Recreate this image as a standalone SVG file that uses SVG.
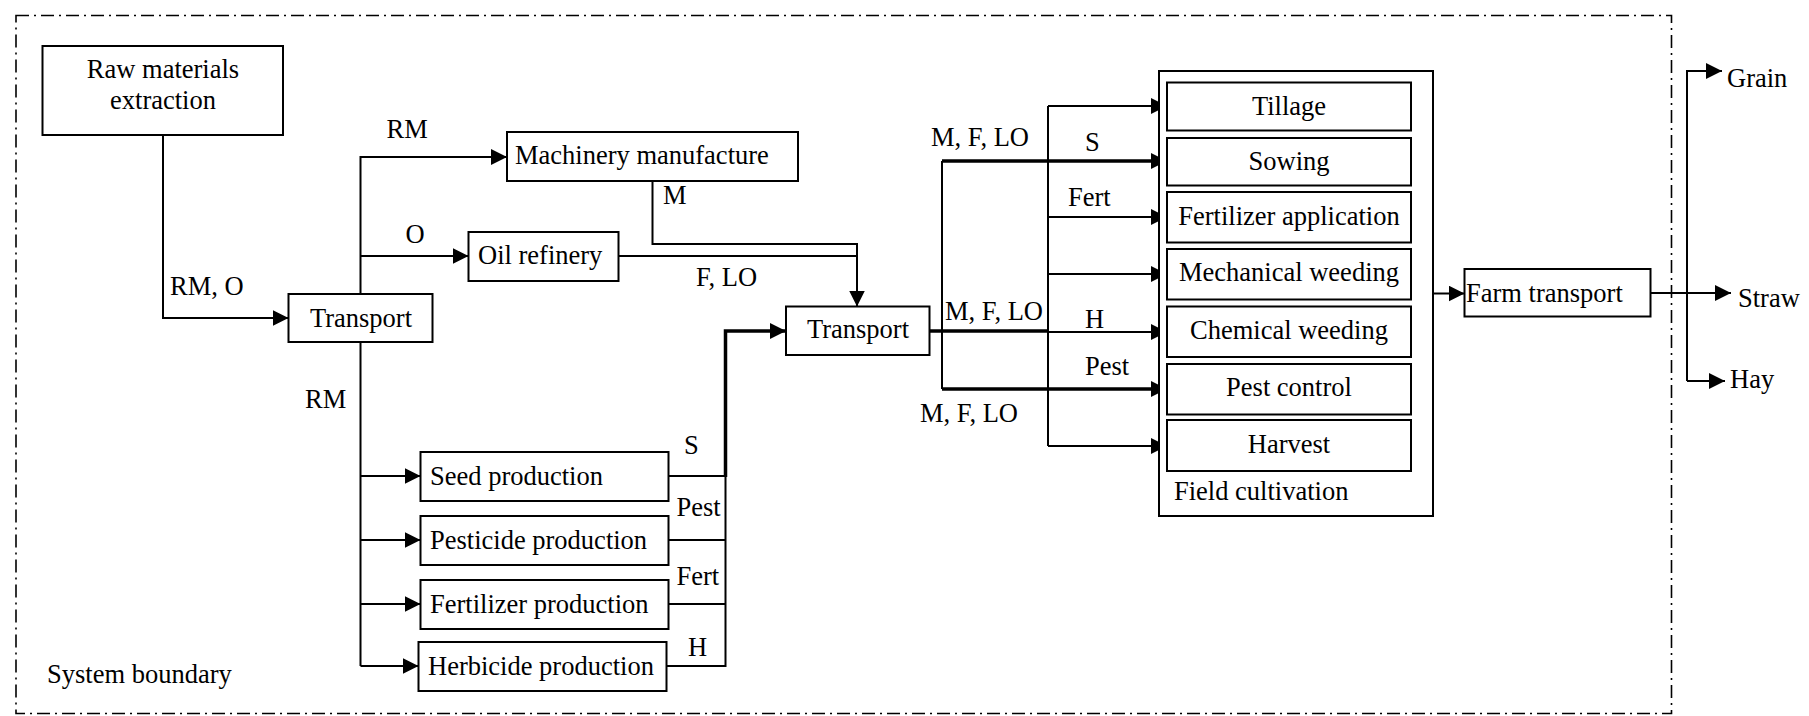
<svg xmlns="http://www.w3.org/2000/svg" width="1809" height="716" viewBox="0 0 1809 716">
<style>
text{font-size:26.5px;fill:#000}
.c{text-anchor:middle}
.box{fill:#fff;stroke:#000;stroke-width:2}
.ln{fill:none;stroke:#000;stroke-width:2}
.thk{fill:none;stroke:#000;stroke-width:3.5}
.bd{fill:none;stroke:#000;stroke-width:1.6;stroke-dasharray:13 5 2 5}
</style>
<defs>
<marker id="ah" markerUnits="userSpaceOnUse" markerWidth="17" markerHeight="16" refX="16" refY="8" orient="auto">
<path d="M0,0 L16,8 L0,16 z" fill="#000"/>
</marker>
</defs>
<g font-family="'Liberation Serif', 'Times New Roman', 'DejaVu Serif', serif">
<rect class="bd" x="16" y="15.5" width="1655.5" height="698"/>
<text x="47" y="683">System boundary</text>
<g id="connectors">
<path class="ln" d="M163,135 V318 H288.5" marker-end="url(#ah)"/>
<path class="ln" d="M360.5,294 V157 H507" marker-end="url(#ah)"/>
<path class="ln" d="M360.5,256 H468.5" marker-end="url(#ah)"/>
<path class="ln" d="M360.5,342 V666"/>
<path class="ln" d="M360.5,476 H420.5" marker-end="url(#ah)"/>
<path class="ln" d="M360.5,540 H420.5" marker-end="url(#ah)"/>
<path class="ln" d="M360.5,604 H420.5" marker-end="url(#ah)"/>
<path class="ln" d="M360.5,666 H418.5" marker-end="url(#ah)"/>
<path class="ln" d="M668.5,476 H725.5"/>
<path class="ln" d="M668.5,540 H725.5"/>
<path class="ln" d="M668.5,604 H725.5"/>
<path class="ln" d="M666.5,666 H725.5 V476"/>
<path class="thk" d="M725.5,477 V331 H786" marker-end="url(#ah)"/>
<path class="ln" d="M652.5,181 V244 H857 V306.5" marker-end="url(#ah)"/>
<path class="ln" d="M618.5,256 H857"/>
<path class="thk" d="M929.5,331 H1048"/>
<path class="ln" d="M942,161 V389"/>
<path class="thk" d="M942,161 H1152"/>
<path class="ln" d="M1150,161 H1167" marker-end="url(#ah)"/>
<path class="thk" d="M942,389 H1152"/>
<path class="ln" d="M1150,389 H1167" marker-end="url(#ah)"/>
<path class="ln" d="M1048,106 V446"/>
<path class="ln" d="M1048,106 H1167" marker-end="url(#ah)"/>
<path class="ln" d="M1048,217 H1167" marker-end="url(#ah)"/>
<path class="ln" d="M1048,274 H1167" marker-end="url(#ah)"/>
<path class="ln" d="M1048,332 H1167" marker-end="url(#ah)"/>
<path class="ln" d="M1048,446 H1167" marker-end="url(#ah)"/>
<path class="ln" d="M1433.5,293.5 H1464.5" marker-end="url(#ah)"/>
<path class="ln" d="M1650.5,293 H1731" marker-end="url(#ah)"/>
<path class="ln" d="M1687,381 V71 H1722" marker-end="url(#ah)"/>
<path class="ln" d="M1687,381 H1725" marker-end="url(#ah)"/>
<text x="170" y="295">RM, O</text>
<text x="386.5" y="138">RM</text>
<text class="c" x="415" y="243">O</text>
<text x="305" y="408">RM</text>
<text x="663" y="204">M</text>
<text x="696" y="286">F, LO</text>
<text x="684" y="454">S</text>
<text x="676.5" y="516">Pest</text>
<text x="676.5" y="585">Fert</text>
<text x="688" y="656">H</text>
<text x="931" y="146">M, F, LO</text>
<text x="1085" y="151">S</text>
<text x="1068" y="206">Fert</text>
<text x="945" y="319.5">M, F, LO</text>
<text x="1085" y="328">H</text>
<text x="1085" y="375">Pest</text>
<text x="920" y="422">M, F, LO</text>
<text x="1727" y="87">Grain</text>
<text x="1738" y="307">Straw</text>
<text x="1730" y="388">Hay</text>
</g>
<g id="raw"><rect class="box" x="42.5" y="46" width="240.5" height="89"/><text class="c" x="163" y="78">Raw materials</text><text class="c" x="163" y="109">extraction</text></g>
<g id="transport1"><rect class="box" x="288.5" y="294" width="144" height="48"/><text class="c" x="361" y="327">Transport</text></g>
<g id="machinery"><rect class="box" x="507" y="132" width="291" height="49"/><text x="515" y="164">Machinery manufacture</text></g>
<g id="oil"><rect class="box" x="468.5" y="232" width="150" height="49"/><text x="478" y="264">Oil refinery</text></g>
<g id="seed"><rect class="box" x="420.5" y="452" width="248" height="49"/><text x="430" y="485">Seed production</text></g>
<g id="pesticide"><rect class="box" x="420.5" y="516" width="248" height="49"/><text x="430" y="548.5">Pesticide production</text></g>
<g id="fertilizer"><rect class="box" x="420.5" y="580" width="248" height="49"/><text x="430" y="612.5">Fertilizer production</text></g>
<g id="herbicide"><rect class="box" x="418.5" y="642" width="248" height="49"/><text x="428" y="674.5">Herbicide production</text></g>
<g id="transport2"><rect class="box" x="786" y="306.5" width="143.5" height="48.5"/><text class="c" x="858" y="338">Transport</text></g>
<g id="field"><rect class="box" x="1159" y="71" width="274" height="445"/><text x="1174" y="500">Field cultivation</text></g>
<g id="tillage"><rect class="box" x="1167" y="82.5" width="244" height="48"/><text class="c" x="1289" y="115">Tillage</text></g>
<g id="sowing"><rect class="box" x="1167" y="138" width="244" height="47.5"/><text class="c" x="1289" y="170">Sowing</text></g>
<g id="fertapp"><rect class="box" x="1167" y="192" width="244" height="50.5"/><text class="c" x="1289" y="224.5">Fertilizer application</text></g>
<g id="mech"><rect class="box" x="1167" y="249" width="244" height="50.5"/><text class="c" x="1289" y="281">Mechanical weeding</text></g>
<g id="chem"><rect class="box" x="1167" y="306.5" width="244" height="50.5"/><text class="c" x="1289" y="338.5">Chemical weeding</text></g>
<g id="pestctrl"><rect class="box" x="1167" y="364" width="244" height="50.5"/><text class="c" x="1289" y="396">Pest control</text></g>
<g id="harvest"><rect class="box" x="1167" y="420" width="244" height="51"/><text class="c" x="1289" y="453">Harvest</text></g>
<g id="farm"><rect class="box" x="1464.5" y="269" width="186" height="47.5"/><text x="1466" y="302">Farm transport</text></g>
</g>
</svg>
